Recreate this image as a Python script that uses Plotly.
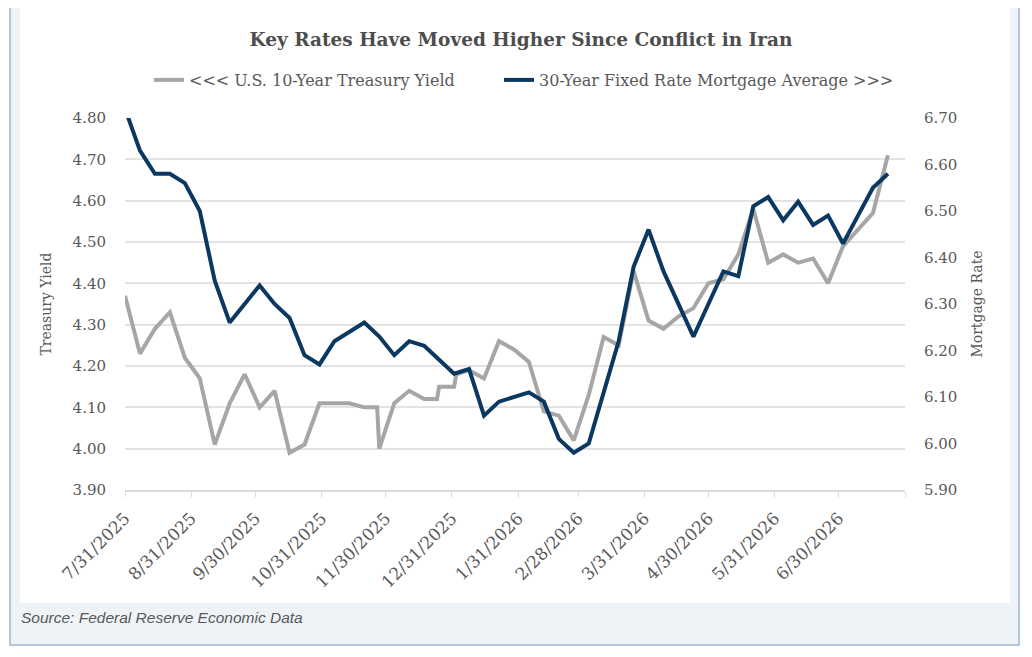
import plotly.graph_objects as go

# weekly data
tsy_dates = ['2025-07-31', '2025-08-07', '2025-08-14', '2025-08-21', '2025-08-28',
             '2025-09-04', '2025-09-11', '2025-09-18', '2025-09-25', '2025-10-02',
             '2025-10-09', '2025-10-16', '2025-10-23', '2025-10-30', '2025-11-06',
             '2025-11-13', '2025-11-20', '2025-11-26', '2025-11-27', '2025-12-04',
             '2025-12-11', '2025-12-18', '2025-12-24', '2025-12-25', '2026-01-01',
             '2026-01-02', '2026-01-08', '2026-01-15', '2026-01-22', '2026-01-29',
             '2026-02-05', '2026-02-12', '2026-02-19', '2026-02-26', '2026-03-05',
             '2026-03-12', '2026-03-19', '2026-03-26', '2026-04-02', '2026-04-09',
             '2026-04-16', '2026-04-23', '2026-04-30', '2026-05-07', '2026-05-14',
             '2026-05-21', '2026-05-28', '2026-06-04', '2026-06-11', '2026-06-18',
             '2026-06-25', '2026-07-02', '2026-07-09', '2026-07-16', '2026-07-23']
tsy_yield = [4.37, 4.23, 4.29, 4.33, 4.22,
             4.17, 4.01, 4.11, 4.18, 4.10,
             4.14, 3.99, 4.01, 4.11, 4.11,
             4.11, 4.10, 4.10, 4.00, 4.11,
             4.14, 4.12, 4.12, 4.15, 4.15,
             4.18, 4.19, 4.17, 4.26, 4.24,
             4.21, 4.09, 4.08, 4.02, 4.13,
             4.27, 4.25, 4.43, 4.31, 4.29,
             4.32, 4.34, 4.40, 4.41, 4.47,
             4.58, 4.45, 4.47, 4.45, 4.46,
             4.40, 4.49, 4.53, 4.57, 4.71]

mort_dates = ['2025-07-31', '2025-08-07', '2025-08-14', '2025-08-21', '2025-08-28',
              '2025-09-04', '2025-09-11', '2025-09-18', '2025-09-25', '2025-10-02',
              '2025-10-09', '2025-10-16', '2025-10-23', '2025-10-30', '2025-11-06',
              '2025-11-13', '2025-11-20', '2025-11-27', '2025-12-04', '2025-12-11',
              '2025-12-18', '2025-12-25', '2026-01-01', '2026-01-08', '2026-01-15',
              '2026-01-22', '2026-01-29', '2026-02-05', '2026-02-12', '2026-02-19',
              '2026-02-26', '2026-03-05', '2026-03-12', '2026-03-19', '2026-03-26',
              '2026-04-02', '2026-04-09', '2026-04-16', '2026-04-23', '2026-04-30',
              '2026-05-07', '2026-05-14', '2026-05-21', '2026-05-28', '2026-06-04',
              '2026-06-11', '2026-06-18', '2026-06-25', '2026-07-02', '2026-07-09',
              '2026-07-16', '2026-07-23']
mort_rate = [6.72, 6.63, 6.58, 6.58, 6.56,
             6.50, 6.35, 6.26, 6.30, 6.34,
             6.30, 6.27, 6.19, 6.17, 6.22,
             6.24, 6.26, 6.23, 6.19, 6.22,
             6.21, 6.18, 6.15, 6.16, 6.06,
             6.09, 6.10, 6.11, 6.09, 6.01,
             5.98, 6.00, 6.11, 6.22, 6.38,
             6.46, 6.37, 6.30, 6.23, 6.30,
             6.37, 6.36, 6.51, 6.53, 6.48,
             6.52, 6.47, 6.49, 6.43, 6.49,
             6.55, 6.58]

# month-end ticks on the date axis (last one has no label)
tick_dates = ['2025-07-31', '2025-08-31', '2025-09-30', '2025-10-31', '2025-11-30',
              '2025-12-31', '2026-01-31', '2026-02-28', '2026-03-31', '2026-04-30',
              '2026-05-31', '2026-06-30', '2026-07-31']
tick_text = ['7/31/2025', '8/31/2025', '9/30/2025', '10/31/2025', '11/30/2025',
             '12/31/2025', '1/31/2026', '2/28/2026', '3/31/2026', '4/30/2026',
             '5/31/2026', '6/30/2026', '']

GRAY = '#A6A6A6'
NAVY = '#0B3861'
TXT = '#595959'
SERIF = 'DejaVu Serif'

fig = go.Figure()
fig.add_trace(go.Scatter(x=tsy_dates, y=tsy_yield, mode='lines',
                         name='&lt;&lt;&lt; U.S. 10-Year Treasury Yield',
                         line=dict(color=GRAY, width=4),
                         legend='legend', showlegend=True))
fig.add_trace(go.Scatter(x=mort_dates, y=mort_rate, mode='lines', yaxis='y2',
                         name='30-Year Fixed Rate Mortgage Average &gt;&gt;&gt;',
                         line=dict(color=NAVY, width=4),
                         legend='legend2', showlegend=True))

# the page body adds 8px, so everything below is laid out in screen pixels
OFF = 8
W, H = 1032, 657
X0, X1, Y0, Y1 = 125, 905, 118, 490   # plot area on screen
L = X0 - OFF
T = Y0 - OFF
R = W - L - (X1 - X0)
B = H - T - (Y1 - Y0)


def px_x(v):
    return (v - X0) / (X1 - X0)


def px_y(v):
    return (Y1 - v) / (Y1 - Y0)


shapes = [
    # outer frame
    dict(type='rect', xref='paper', yref='paper', layer='below',
         x0=px_x(10), x1=px_x(1019), y0=px_y(645), y1=px_y(7),
         fillcolor='#EEF3F8', line=dict(color='#B3C6DC', width=2)),
    # white chart panel
    dict(type='rect', xref='paper', yref='paper', layer='below',
         x0=px_x(20), x1=px_x(1010), y0=px_y(603), y1=px_y(8),
         fillcolor='white', line=dict(width=0)),
]


def leg_style(xpix):
    return dict(orientation='h', xanchor='left', yanchor='middle',
                x=px_x(xpix), y=px_y(80),
                font=dict(family=SERIF, size=16, color=TXT),
                bgcolor='rgba(0,0,0,0)')


fig.update_layout(
    width=W, height=H,
    margin=dict(l=L, r=R, t=T, b=B, autoexpand=False),
    paper_bgcolor='white',
    plot_bgcolor='rgba(0,0,0,0)',
    shapes=shapes,
    showlegend=True,
    title=dict(text='<b>Key Rates Have Moved Higher Since Conflict in Iran</b>',
               x=(521 - OFF) / W, xanchor='center',
               y=1 - (40 - OFF) / H, yanchor='middle',
               font=dict(family=SERIF, size=18.5, color='#4D4D4D')),
    legend=leg_style(149),
    legend2=leg_style(499),
    xaxis=dict(type='date', range=['2025-07-31', '2026-07-31'],
               tickvals=tick_dates, ticktext=tick_text, tickangle=-45,
               tickfont=dict(family=SERIF, size=17, color=TXT),
               ticks='outside', ticklen=5, tickcolor='#D9D9D9', tickwidth=1,
               ticklabelstandoff=5,
               showline=True, linecolor='#D9D9D9', linewidth=1.5,
               showgrid=False, zeroline=False),
    yaxis=dict(range=[3.90, 4.80], dtick=0.1, tickformat='.2f',
               tickfont=dict(family=SERIF, size=15, color=TXT),
               ticklabelstandoff=18,
               title=dict(text='Treasury Yield', standoff=17,
                          font=dict(family=SERIF, size=14, color=TXT)),
               showgrid=True, gridcolor='#E3E3E3', gridwidth=1.8,
               zeroline=False, showline=False),
    yaxis2=dict(range=[5.90, 6.70], dtick=0.1, tickformat='.2f',
                overlaying='y', side='right',
                tickfont=dict(family=SERIF, size=15, color=TXT),
                ticklabelstandoff=18,
                title=dict(text='Mortgage Rate', standoff=15,
                           font=dict(family=SERIF, size=14, color=TXT)),
                showgrid=False, zeroline=False, showline=False),
)

fig.add_annotation(text='<i>Source: Federal Reserve Economic Data</i>',
                   xref='paper', yref='paper', x=px_x(19), y=px_y(617),
                   xanchor='left', yanchor='middle', showarrow=False,
                   font=dict(family='Liberation Sans', size=15.5, color=TXT))

fig.write_html("out.html")
